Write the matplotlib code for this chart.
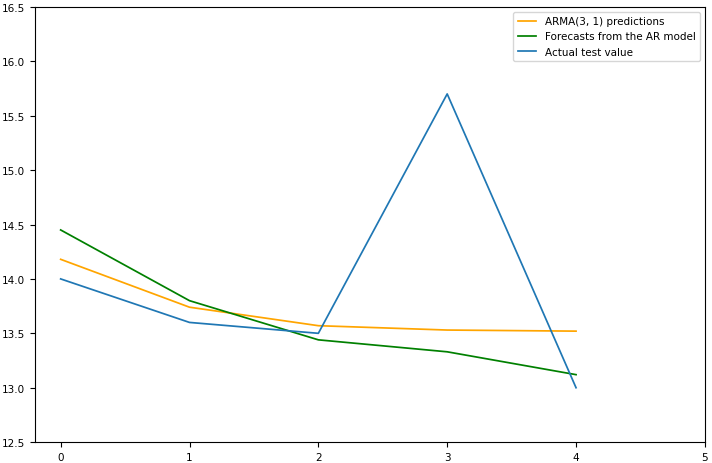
import numpy as np
import matplotlib.pyplot as plt

steps = [0, 1, 2, 3, 4]
arma_pred = [14.18, 13.74, 13.57, 13.53, 13.52]
ar_forecast = [14.45, 13.80, 13.44, 13.33, 13.12]
actual = [14.0, 13.6, 13.5, 15.7, 13.0]

plt.rcParams['font.size'] = 7.5
plt.rcParams['lines.linewidth'] = 1.25

fig, ax = plt.subplots(figsize=(7.12, 4.64), dpi=100)
fig.subplots_adjust(left=0.049, right=0.99, top=0.983, bottom=0.045)

ax.plot(steps, arma_pred, color='orange', label='ARMA(3, 1) predictions')
ax.plot(steps, ar_forecast, color='green', label='Forecasts from the AR model')
ax.plot(steps, actual, color='tab:blue', label='Actual test value')

ax.set_xlim(-0.2, 5)
ax.set_ylim(12.5, 16.5)
ax.legend(loc='upper right', handlelength=1.8)

fig.savefig('out.png')
